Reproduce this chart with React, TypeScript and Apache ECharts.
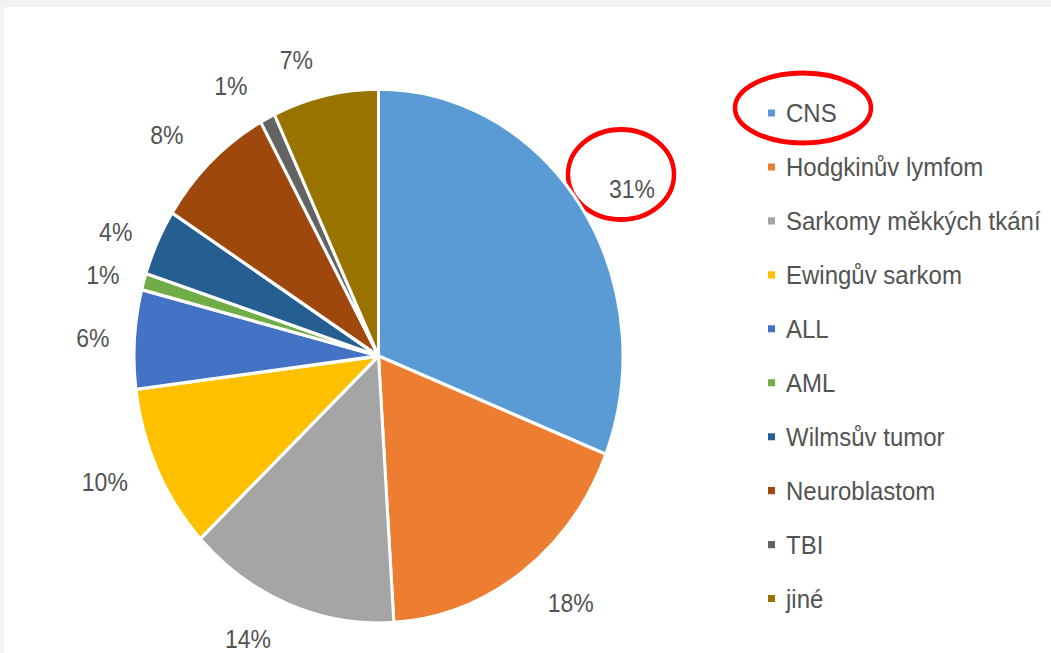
import React, { useEffect, useRef } from "react";
import * as echarts from "echarts";

const categories = [
  "CNS",
  "Hodgkinův lymfom",
  "Sarkomy měkkých tkání",
  "Ewingův sarkom",
  "ALL",
  "AML",
  "Wilmsův tumor",
  "Neuroblastom",
  "TBI",
  "jiné",
];
const shares = [31, 18, 14, 10, 6, 1, 4, 8, 1, 7];
const colors = [
  "#5B9BD5",
  "#ED7D31",
  "#A5A5A5",
  "#FFC000",
  "#4472C4",
  "#70AD47",
  "#255E91",
  "#9E480E",
  "#636363",
  "#997300",
];
// distance of each percentage label from the pie edge (styling only)
const labelGaps = [28, 35, 34, 27, 20, 20, 22, 33, 33, 33];

const W = 1051;
const H = 653;
const SY = 1.092; // vertical stretch of the reference picture
const CH = H / SY;
const FONT = "'Liberation Sans', Arial, sans-serif";
const TEXT = "#535353";

export default function App() {
  const ref = useRef<HTMLDivElement>(null);

  useEffect(() => {
    const chart = echarts.init(ref.current!, null, {
      renderer: "svg",
      width: W,
      height: CH,
    });
    chart.setOption({
      animation: false,
      color: colors,
      legend: {
        orient: "vertical",
        left: 766,
        top: 91.5,
        padding: 0,
        itemGap: 25.4,
        itemWidth: 9,
        itemHeight: 8.5,
        icon: "rect",
        selectedMode: false,
        data: categories,
        textStyle: {
          color: TEXT,
          fontFamily: FONT,
          fontSize: 24,
          lineHeight: 24,
          padding: [0, 0, 0, 5],
        },
      },
      graphic: [
        {
          type: "ellipse",
          shape: { cx: 803, cy: 108 / SY, rx: 68, ry: 35 / SY },
          style: { fill: "none", stroke: "#ff0000", lineWidth: 4.5 },
          silent: true,
        },
        {
          type: "ellipse",
          shape: { cx: 621, cy: 174.5 / SY, rx: 53, ry: 45 / SY },
          style: { fill: "none", stroke: "#ff0000", lineWidth: 4.5 },
          silent: true,
        },
      ],
      series: [
        {
          type: "pie",
          center: [378.5, 356 / SY],
          radius: 244.5,
          startAngle: 90,
          clockwise: true,
          avoidLabelOverlap: false,
          itemStyle: { borderColor: "#ffffff", borderWidth: 3 },
          label: {
            show: true,
            position: "outside",
            formatter: "{c}%",
            color: TEXT,
            fontFamily: FONT,
            fontSize: 23,
            distanceToLabelLine: 5,
          },
          labelLine: { show: false, length: 25, length2: 0 },
          emphasis: { disabled: true },
          data: categories.map((name, i) => ({
            name,
            value: shares[i],
            labelLine: { show: false, length: labelGaps[i], length2: 0 },
          })),
        },
      ],
    });
    return () => chart.dispose();
  }, []);

  return (
    <div
      style={{
        position: "fixed",
        left: 0,
        top: 0,
        width: W,
        height: H,
        background: "#f2f2f2",
        overflow: "hidden",
      }}
    >
      <div
        style={{
          position: "absolute",
          left: 4,
          top: 7,
          right: 0,
          bottom: 0,
          background: "#ffffff",
        }}
      />
      <div
        ref={ref}
        style={{
          position: "absolute",
          left: 0,
          top: 0,
          width: W,
          height: CH,
          transform: `scaleY(${SY})`,
          transformOrigin: "0 0",
        }}
      />
    </div>
  );
}
